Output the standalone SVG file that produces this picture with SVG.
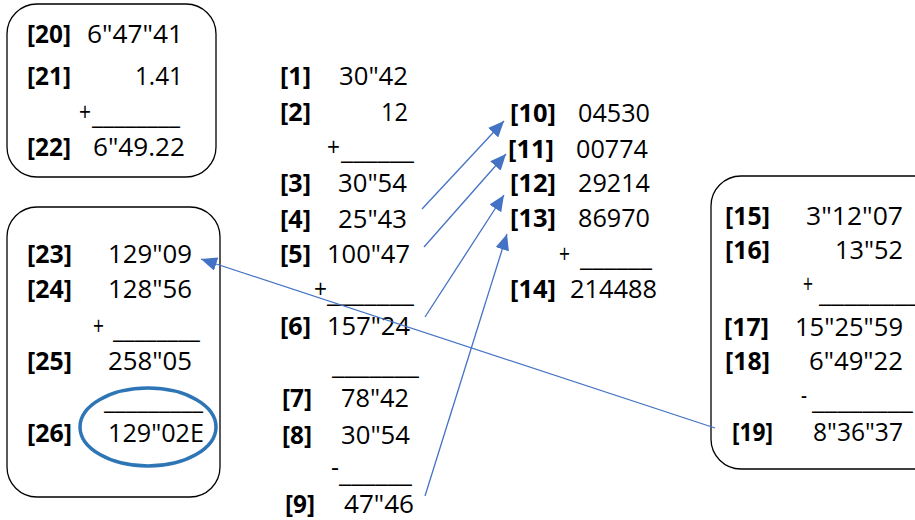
<svg xmlns="http://www.w3.org/2000/svg" width="915" height="520" viewBox="0 0 915 520">
<style>
text{font-family:"Open Sans","Liberation Sans",sans-serif;font-size:25px;fill:#000}
.b{font-weight:bold}
.box{fill:#fff;stroke:#000;stroke-width:1.3}
.con{stroke:#4472C4;stroke-width:1.3;fill:none;marker-end:url(#ah)}
</style>
<defs>
<marker id="ah" markerUnits="userSpaceOnUse" markerWidth="16" markerHeight="14" viewBox="0 0 16 14" refX="16" refY="7" orient="auto">
<path d="M0,0 L16,7 L0,14 Z" fill="#4472C4"/>
</marker>
</defs>
<rect width="915" height="520" fill="#fff"/>
<g id="box-20-22">
<rect class="box" x="7" y="4" width="209" height="173" rx="30"/>
<text class="b" x="27" y="43" textLength="44" lengthAdjust="spacingAndGlyphs">[20]</text>
<text x="87" y="43" textLength="96" lengthAdjust="spacingAndGlyphs">6"47"41</text>
<text class="b" x="27" y="85" textLength="44" lengthAdjust="spacingAndGlyphs">[21]</text>
<text x="135" y="85" textLength="48" lengthAdjust="spacingAndGlyphs">1.41</text>
<text x="79" y="121" textLength="12" lengthAdjust="spacingAndGlyphs">+</text>
<text x="92" y="124" textLength="88" lengthAdjust="spacingAndGlyphs">________</text>
<text class="b" x="27" y="156" textLength="44" lengthAdjust="spacingAndGlyphs">[22]</text>
<text x="93" y="156" textLength="92" lengthAdjust="spacingAndGlyphs">6"49.22</text>
</g>
<g id="box-23-26">
<rect class="box" x="7" y="207" width="213" height="290" rx="30"/>
<text class="b" x="27" y="263" textLength="45" lengthAdjust="spacingAndGlyphs">[23]</text>
<text x="108" y="263" textLength="84" lengthAdjust="spacingAndGlyphs">129"09</text>
<text class="b" x="27" y="298" textLength="45" lengthAdjust="spacingAndGlyphs">[24]</text>
<text x="108" y="298" textLength="84" lengthAdjust="spacingAndGlyphs">128"56</text>
<text x="93" y="335" textLength="11" lengthAdjust="spacingAndGlyphs">+</text>
<text x="113" y="338" textLength="87" lengthAdjust="spacingAndGlyphs">________</text>
<text class="b" x="27" y="370" textLength="45" lengthAdjust="spacingAndGlyphs">[25]</text>
<text x="108" y="370" textLength="84" lengthAdjust="spacingAndGlyphs">258"05</text>
<text x="104" y="409" textLength="99" lengthAdjust="spacingAndGlyphs">_________</text>
<text class="b" x="27" y="442" textLength="45" lengthAdjust="spacingAndGlyphs">[26]</text>
<text x="108" y="442" textLength="96" lengthAdjust="spacingAndGlyphs">129"02E</text>
<ellipse cx="148" cy="427" rx="68" ry="39" fill="none" stroke="#2E75B6" stroke-width="3.5"/>
</g>
<g id="col-1-9">
<text class="b" x="280" y="85" textLength="31" lengthAdjust="spacingAndGlyphs">[1]</text>
<text x="339" y="85" textLength="69" lengthAdjust="spacingAndGlyphs">30"42</text>
<text class="b" x="280" y="121" textLength="31" lengthAdjust="spacingAndGlyphs">[2]</text>
<text x="381" y="121" textLength="27" lengthAdjust="spacingAndGlyphs">12</text>
<text x="327" y="156" textLength="13" lengthAdjust="spacingAndGlyphs">+</text>
<text x="341" y="159" textLength="73" lengthAdjust="spacingAndGlyphs">______</text>
<text class="b" x="280" y="192" textLength="31" lengthAdjust="spacingAndGlyphs">[3]</text>
<text x="338" y="192" textLength="69" lengthAdjust="spacingAndGlyphs">30"54</text>
<text class="b" x="280" y="228" textLength="31" lengthAdjust="spacingAndGlyphs">[4]</text>
<text x="338" y="228" textLength="69" lengthAdjust="spacingAndGlyphs">25"43</text>
<text class="b" x="280" y="263" textLength="31" lengthAdjust="spacingAndGlyphs">[5]</text>
<text x="327" y="263" textLength="83" lengthAdjust="spacingAndGlyphs">100"47</text>
<text x="314" y="298" textLength="13" lengthAdjust="spacingAndGlyphs">+</text>
<text x="327" y="302" textLength="87" lengthAdjust="spacingAndGlyphs">_______</text>
<text class="b" x="280" y="335" textLength="31" lengthAdjust="spacingAndGlyphs">[6]</text>
<text x="327" y="335" textLength="83" lengthAdjust="spacingAndGlyphs">157"24</text>
<text x="332" y="374" textLength="87" lengthAdjust="spacingAndGlyphs">_______</text>
<text class="b" x="282" y="407" textLength="30" lengthAdjust="spacingAndGlyphs">[7]</text>
<text x="341" y="407" textLength="68" lengthAdjust="spacingAndGlyphs">78"42</text>
<text class="b" x="282" y="444" textLength="30" lengthAdjust="spacingAndGlyphs">[8]</text>
<text x="341" y="444" textLength="69" lengthAdjust="spacingAndGlyphs">30"54</text>
<text x="331" y="476" textLength="8" lengthAdjust="spacingAndGlyphs">-</text>
<text x="339" y="482" textLength="73" lengthAdjust="spacingAndGlyphs">______</text>
<text class="b" x="285" y="513" textLength="30" lengthAdjust="spacingAndGlyphs">[9]</text>
<text x="344" y="513" textLength="70" lengthAdjust="spacingAndGlyphs">47"46</text>
</g>
<g id="col-10-14">
<text class="b" x="510" y="122" textLength="46" lengthAdjust="spacingAndGlyphs">[10]</text>
<text x="578" y="122" textLength="72" lengthAdjust="spacingAndGlyphs">04530</text>
<text class="b" x="508" y="158" textLength="46" lengthAdjust="spacingAndGlyphs">[11]</text>
<text x="576" y="158" textLength="72" lengthAdjust="spacingAndGlyphs">00774</text>
<text class="b" x="510" y="192" textLength="46" lengthAdjust="spacingAndGlyphs">[12]</text>
<text x="578" y="192" textLength="72" lengthAdjust="spacingAndGlyphs">29214</text>
<text class="b" x="510" y="227" textLength="46" lengthAdjust="spacingAndGlyphs">[13]</text>
<text x="578" y="227" textLength="72" lengthAdjust="spacingAndGlyphs">86970</text>
<text x="559" y="263" textLength="11" lengthAdjust="spacingAndGlyphs">+</text>
<text x="580" y="266" textLength="72" lengthAdjust="spacingAndGlyphs">______</text>
<text class="b" x="510" y="298" textLength="46" lengthAdjust="spacingAndGlyphs">[14]</text>
<text x="570" y="298" textLength="87" lengthAdjust="spacingAndGlyphs">214488</text>
</g>
<g id="box-15-19">
<rect class="box" x="711" y="176" width="240" height="293" rx="30"/>
<text class="b" x="725" y="225" textLength="45" lengthAdjust="spacingAndGlyphs">[15]</text>
<text x="806" y="225" textLength="97" lengthAdjust="spacingAndGlyphs">3"12"07</text>
<text class="b" x="725" y="259" textLength="45" lengthAdjust="spacingAndGlyphs">[16]</text>
<text x="835" y="259" textLength="68" lengthAdjust="spacingAndGlyphs">13"52</text>
<text x="803" y="293" textLength="10" lengthAdjust="spacingAndGlyphs">+</text>
<text x="819" y="302" textLength="101" lengthAdjust="spacingAndGlyphs">________</text>
<text class="b" x="724" y="336" textLength="45" lengthAdjust="spacingAndGlyphs">[17]</text>
<text x="795" y="336" textLength="108" lengthAdjust="spacingAndGlyphs">15"25"59</text>
<text class="b" x="725" y="370" textLength="45" lengthAdjust="spacingAndGlyphs">[18]</text>
<text x="809" y="370" textLength="94" lengthAdjust="spacingAndGlyphs">6"49"22</text>
<text x="801" y="404" textLength="6" lengthAdjust="spacingAndGlyphs">-</text>
<text x="812" y="409" textLength="101" lengthAdjust="spacingAndGlyphs">________</text>
<text class="b" x="732" y="441" textLength="41" lengthAdjust="spacingAndGlyphs">[19]</text>
<text x="813" y="441" textLength="90" lengthAdjust="spacingAndGlyphs">8"36"37</text>
</g>
<g id="connectors">
<line class="con" x1="422" y1="209" x2="504" y2="121"/>
<line class="con" x1="424" y1="247" x2="506" y2="154"/>
<line class="con" x1="425" y1="317" x2="504" y2="195"/>
<line class="con" x1="425" y1="496" x2="507" y2="234"/>
<line class="con" x1="715" y1="428" x2="201" y2="259"/>
</g>
</svg>
